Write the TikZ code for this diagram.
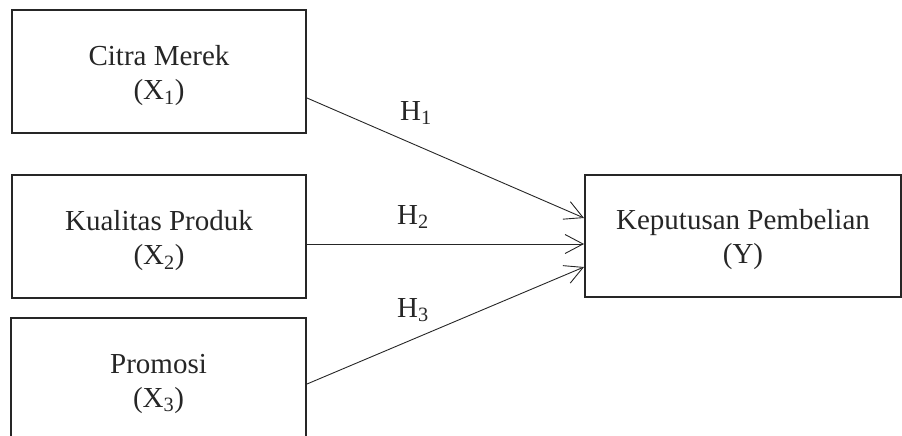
\documentclass[tikz,border=0pt]{standalone}
\usepackage{fontspec}
\setmainfont{Liberation Serif}
\usetikzlibrary{arrows.meta}

\begin{document}
\begin{tikzpicture}[x=1pt, y=1pt]
			\tikzstyle{var}   = [rectangle, draw=black!85, line width=2pt, inner sep=0pt]
			\tikzstyle{lbl}   = [align=center, inner sep=0pt, text=black!85, font=\fontsize{29}{34}\selectfont]
			\tikzstyle{hyp}   = [anchor=base west, inner sep=0pt, text=black!85, font=\fontsize{29}{34}\selectfont]
			\tikzstyle{path}  = [-{Straight Barb[length=18pt, width=19pt]}, line width=0.9pt, black!85]

			\useasboundingbox (0,0) rectangle (902,-436);

			% boxes
			\node[var, minimum width=294pt, minimum height=123pt] (x1) at (159,-71.5) {};
			\node[var, minimum width=294pt, minimum height=123pt] (x2) at (159,-236.5) {};
			\node[var, minimum width=295pt, minimum height=123pt] (x3) at (158.5,-379.5) {};
			\node[var, minimum width=316pt, minimum height=122pt] (y) at (743,-236) {};

			% texts
			\foreach \name/\txt in {x1/{Citra Merek\\(X\textsubscript{1})}, x2/{Kualitas Produk\\(X\textsubscript{2})},
			                        x3/{Promosi\\(X\textsubscript{3})}, y/{Keputusan Pembelian\\(Y)}}
				\node[lbl] (\name t) at ([yshift=-4pt]\name.center) {\txt};

			\foreach \from/\fs/\ts in {x1/-26.5/18, x2/-7.5/-8, x3/-4.5/-31}
				\draw[path] ([yshift=\fs pt]\from.east) -- ([yshift=\ts pt]y.west);

			\foreach \name/\x/\y/\k in {h1/400/-120/1, h2/397/-224/2, h3/397/-317/3}
				\node[hyp] (\name) at (\x,\y) {H\textsubscript{\k}};
		\end{tikzpicture}
\end{document}
